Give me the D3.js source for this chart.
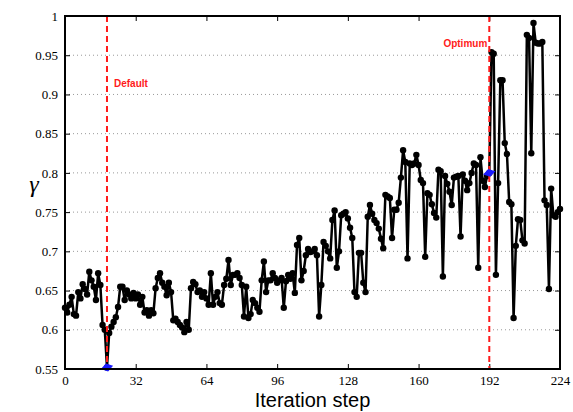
<!DOCTYPE html>
<html><head><meta charset="utf-8">
<script src="https://cdn.jsdelivr.net/npm/d3@7"></script>
<style>body{margin:0;background:#fff}svg{display:block}</style>
</head><body>
<svg id="c" width="573" height="412"></svg>
<script>
const gammaValues = [
0.628,0.622,0.632,0.642,0.620,0.618,0.648,0.640,0.658,0.652,
0.645,0.674,0.663,0.655,0.638,0.672,0.657,0.606,0.600,0.552,
0.596,0.604,0.610,0.616,0.629,0.655,0.655,0.638,0.650,0.645,
0.640,0.647,0.640,0.645,0.632,0.642,0.622,0.625,0.618,0.625,
0.621,0.653,0.666,0.672,0.660,0.655,0.644,0.660,0.648,0.612,
0.614,0.610,0.606,0.603,0.597,0.610,0.600,0.653,0.661,0.658,
0.648,0.650,0.642,0.648,0.640,0.632,0.672,0.632,0.642,0.648,
0.634,0.632,0.657,0.665,0.689,0.657,0.670,0.670,0.672,0.666,
0.657,0.617,0.655,0.615,0.620,0.638,0.634,0.628,0.623,0.663,
0.687,0.648,0.663,0.663,0.672,0.666,0.660,0.663,0.666,0.628,
0.662,0.670,0.665,0.672,0.647,0.708,0.717,0.663,0.675,0.695,
0.703,0.699,0.700,0.703,0.695,0.617,0.657,0.712,0.707,0.700,
0.691,0.740,0.752,0.679,0.700,0.746,0.748,0.750,0.742,0.730,
0.717,0.648,0.642,0.698,0.698,0.660,0.648,0.744,0.759,0.748,
0.740,0.736,0.729,0.716,0.704,0.772,0.770,0.768,0.717,0.753,
0.753,0.762,0.794,0.829,0.814,0.691,0.812,0.810,0.812,0.823,
0.810,0.791,0.787,0.693,0.774,0.772,0.760,0.749,0.743,0.804,
0.802,0.668,0.796,0.786,0.776,0.759,0.794,0.795,0.796,0.719,
0.798,0.790,0.778,0.787,0.800,0.812,0.810,0.679,0.820,0.790,
0.782,0.796,0.800,0.954,0.952,0.670,0.787,0.918,0.918,0.838,
0.824,0.763,0.760,0.615,0.707,0.741,0.740,0.714,0.710,0.976,
0.972,0.825,0.991,0.966,0.965,0.965,0.967,0.765,0.759,0.652,
0.780,0.746,0.744,0.750,0.754
];
const steps = gammaValues.map((d,i)=>i);
const xTicks = [0,32,64,96,128,160,192,224];
const yTicks = [0.55,0.6,0.65,0.7,0.75,0.8,0.85,0.9,0.95,1];
const defaultStep = 19, optimumStep = 192;
const markerLabels = ["Default","Optimum"];

const svg = d3.select("#c");
const L=65, R=560, T=16, B=369;
const x = d3.scaleLinear().domain([0,224]).range([L,R]);
const y = d3.scaleLinear().domain([0.55,1]).range([B,T]);

// grid
svg.append("g").selectAll("line").data(yTicks.slice(1,-1)).join("line")
  .attr("x1",L).attr("x2",R).attr("y1",d=>y(d)).attr("y2",d=>y(d))
  .attr("stroke","#999").attr("stroke-width",1).attr("stroke-dasharray","1,3");

// axes
const fmt = d=>String(+d.toFixed(2));
svg.append("g").attr("transform",`translate(0,${B})`)
  .call(d3.axisBottom(x).tickValues(xTicks).tickSize(-5).tickPadding(7).tickFormat(d=>d))
  .call(g=>{g.select(".domain").remove();g.selectAll("text").attr("font-family","Liberation Serif").attr("font-size",13).attr("fill","#000");g.selectAll("line").attr("stroke","#000");});
svg.append("g").attr("transform",`translate(0,${T})`)
  .call(d3.axisTop(x).tickValues(xTicks).tickSize(-5).tickFormat(""))
  .call(g=>{g.select(".domain").remove();g.selectAll("line").attr("stroke","#000");});
svg.append("g").attr("transform",`translate(${L},0)`)
  .call(d3.axisLeft(y).tickValues(yTicks).tickSize(-5).tickPadding(7).tickFormat(fmt))
  .call(g=>{g.select(".domain").remove();g.selectAll("text").attr("font-family","Liberation Serif").attr("font-size",13).attr("fill","#000");g.selectAll("line").attr("stroke","#000");});
svg.append("g").attr("transform",`translate(${R},0)`)
  .call(d3.axisRight(y).tickValues(yTicks).tickSize(-5).tickFormat(""))
  .call(g=>{g.select(".domain").remove();g.selectAll("line").attr("stroke","#000");});

// line + markers
const line = d3.line().x((d,i)=>x(steps[i])).y(d=>y(d));
svg.append("path").datum(gammaValues).attr("d",line)
  .attr("fill","none").attr("stroke","#000").attr("stroke-width",2.5).attr("stroke-linejoin","round");
svg.append("g").selectAll("circle").data(gammaValues).join("circle")
  .attr("cx",(d,i)=>x(steps[i])).attr("cy",d=>y(d)).attr("r",3.2).attr("fill","#000");

// red dashed lines
[defaultStep,optimumStep].forEach(s=>{
  svg.append("line").attr("x1",x(s)).attr("x2",x(s)).attr("y1",T).attr("y2",B)
    .attr("stroke","#ff1a1a").attr("stroke-width",2).attr("stroke-dasharray","6,4");
});
// blue diamonds
[defaultStep,optimumStep].forEach(s=>{
  const v = gammaValues[s];
  svg.append("path").attr("d",d3.symbol(d3.symbolDiamond2,60)())
    .attr("transform",`translate(${x(s)},${y(v)}) rotate(-15) scale(1.3,0.85)`).attr("fill","#1a1aff");
});

// labels
svg.append("text").attr("x",x(defaultStep)+7).attr("y",87).text(markerLabels[0])
  .attr("font-family","Liberation Sans").attr("font-weight","bold").attr("font-size",10).attr("fill","#ff1a1a");
svg.append("text").attr("x",x(optimumStep)-2).attr("y",47).attr("text-anchor","end").text(markerLabels[1])
  .attr("font-family","Liberation Sans").attr("font-weight","bold").attr("font-size",10).attr("fill","#ff1a1a");

// frame
svg.append("rect").attr("x",L).attr("y",T).attr("width",R-L).attr("height",B-T)
  .attr("fill","none").attr("stroke","#000").attr("stroke-width",2);

svg.append("text").attr("x",(L+R)/2).attr("y",407).attr("text-anchor","middle")
  .attr("font-family","Liberation Sans").attr("font-size",20).text("Iteration step");
svg.append("text").attr("x",34).attr("y",192).attr("text-anchor","middle")
  .attr("font-family","Liberation Serif").attr("font-style","italic").attr("font-size",24).text("γ");
</script>
</body></html>
